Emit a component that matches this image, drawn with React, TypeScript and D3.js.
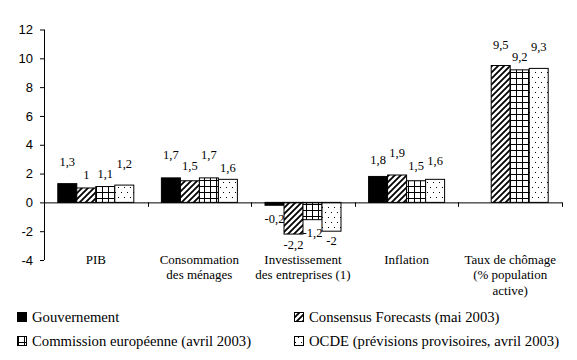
import React, { useEffect, useRef } from "react";
import * as d3 from "d3";

// categories (lines of each axis label)
const categories = ["PIB", "Consommation", "Investissement", "Inflation", "Taux"];
const categoryLines = [
    ["PIB"],
    ["Consommation", "des ménages"],
    ["Investissement", "des entreprises (1)"],
    ["Inflation"],
    ["Taux de chômage", "(% population", "active)"],
];

const seriesNames = [
    "Gouvernement",
    "Consensus Forecasts (mai 2003)",
    "Commission européenne (avril 2003)",
    "OCDE (prévisions provisoires, avril 2003)",
];

// values per series, in category order (null = no bar)
const gouvernement = [1.3, 1.7, -0.2, 1.8, null];
const consensus = [1.0, 1.5, -2.2, 1.9, 9.5];
const commission = [1.1, 1.7, -1.2, 1.5, 9.2];
const ocde = [1.2, 1.6, -2.0, 1.6, 9.3];
const seriesValues = [gouvernement, consensus, commission, ocde];

const yTicks = [-4, -2, 0, 2, 4, 6, 8, 10, 12];

// distance of each value label from the bar end (Excel staggers them)
const labelGap = [
    [22, 23, 13, 17, 0],
    [13, 15, 11, 22, 21],
    [13, 23, 13, 15, 13],
    [21, 12, 9, 19, 22],
];

const fills = ["#000", "url(#hatch)", "url(#grid)", "url(#dots)"];

const fmt = (v: number) => String(v).replace(".", ",");

const App: React.FC = () => {
    const svgRef = useRef<SVGSVGElement>(null);

    useEffect(() => {
        if (!svgRef.current) return;
        const svg = d3.select(svgRef.current);
        svg.selectAll("*").remove();

        const left = 44, right = 562, top = 29.5, bottom = 260;
        const serif = "Liberation Serif, Times New Roman, serif";
        const sans = "Liberation Sans, Arial, sans-serif";

        // patterns
        const defs = svg.append("defs");
        const hatch = defs.append("pattern")
            .attr("id", "hatch")
            .attr("patternUnits", "userSpaceOnUse")
            .attr("width", 6).attr("height", 6);
        hatch.append("rect").attr("width", 6).attr("height", 6).attr("fill", "#fff");
        hatch.append("path")
            .attr("d", "M-1,7 L7,-1 M-4,4 L4,-4 M2,10 L10,2")
            .attr("stroke", "#000")
            .attr("stroke-width", 1.8);

        const grid = defs.append("pattern")
            .attr("id", "grid")
            .attr("patternUnits", "userSpaceOnUse")
            .attr("width", 6).attr("height", 6);
        grid.append("rect").attr("width", 6).attr("height", 6).attr("fill", "#fff");
        grid.append("path")
            .attr("d", "M0.5,0 V6 M0,0.5 H6")
            .attr("stroke", "#000")
            .attr("stroke-width", 1);

        const dots = defs.append("pattern")
            .attr("id", "dots")
            .attr("patternUnits", "userSpaceOnUse")
            .attr("width", 6).attr("height", 10);
        dots.append("rect").attr("width", 6).attr("height", 10).attr("fill", "#fff");
        dots.append("rect").attr("x", 1).attr("y", 2).attr("width", 1).attr("height", 1).attr("fill", "#000");
        dots.append("rect").attr("x", 4).attr("y", 7).attr("width", 1).attr("height", 1).attr("fill", "#000");

        const x0 = d3.scaleBand()
            .domain(categories)
            .range([left, right])
            .padding(0);
        const bw = x0.bandwidth();
        const barW = 19;
        const x1 = d3.scaleBand()
            .domain(seriesNames)
            .range([bw / 2 - 2 * barW, bw / 2 + 2 * barW])
            .padding(0);

        const y = d3.scaleLinear().domain([-4, 12]).range([bottom, top]);

        // y axis
        const yAxis = svg.append("g")
            .attr("transform", `translate(${left},0)`)
            .call(d3.axisLeft(y).tickValues(yTicks).tickSize(4).tickPadding(7).tickFormat(d => String(d)));
        yAxis.select(".domain").attr("stroke", "#000").attr("d", `M0.5,${top}V${bottom}`);
        yAxis.selectAll(".tick line").attr("stroke", "#000");
        yAxis.selectAll(".tick text")
            .style("font-family", sans)
            .style("font-size", "13px")
            .attr("fill", "#000");

        // bars
        seriesValues.forEach((vals, si) => {
            const g = svg.append("g");
            vals.forEach((v, ci) => {
                if (v === null) return;
                const bx = (x0(categories[ci]) || 0) + (x1(seriesNames[si]) || 0);
                const y0 = y(Math.max(0, v));
                const h = Math.abs(y(v) - y(0));
                g.append("rect")
                    .attr("x", bx)
                    .attr("y", y0)
                    .attr("width", barW)
                    .attr("height", h)
                    .attr("fill", fills[si])
                    .attr("stroke", "#000")
                    .attr("stroke-width", 1);

                const ly = v >= 0 ? y(v) - labelGap[si][ci] : y(v) + labelGap[si][ci];
                g.append("text")
                    .attr("x", bx + barW / 2)
                    .attr("y", ly)
                    .attr("dy", "0.35em")
                    .attr("text-anchor", "middle")
                    .style("font-family", serif)
                    .style("font-size", "12.5px")
                    .attr("fill", "#000")
                    .text(fmt(v));
            });
        });

        // x axis at zero
        const xAxis = svg.append("g");
        xAxis.append("line")
            .attr("x1", left).attr("x2", right)
            .attr("y1", y(0) + 0.5).attr("y2", y(0) + 0.5)
            .attr("stroke", "#000");
        categories.forEach(c => {
            const tx = Math.round((x0(c) || 0) + bw) + 0.5;
            xAxis.append("line")
                .attr("x1", tx).attr("x2", tx)
                .attr("y1", y(0)).attr("y2", y(0) + 4.5)
                .attr("stroke", "#000");
        });

        // category labels
        categoryLines.forEach((lines, ci) => {
            const cx = (x0(categories[ci]) || 0) + bw / 2;
            const t = svg.append("text")
                .attr("text-anchor", "middle")
                .style("font-family", serif)
                .style("font-size", "13px")
                .attr("fill", "#000");
            lines.forEach((line, li) => {
                t.append("tspan")
                    .attr("x", cx)
                    .attr("y", 263.5 + li * 15.5)
                    .text(line);
            });
        });

        // legend
        const legendPos = [[17, 317], [294, 317], [17, 341], [294, 341]];
        seriesNames.forEach((name, i) => {
            const [lx, ly] = legendPos[i];
            svg.append("rect")
                .attr("x", lx + 0.5)
                .attr("y", ly - 4.5)
                .attr("width", 9)
                .attr("height", 9)
                .attr("fill", fills[i])
                .attr("stroke", "#000");
            svg.append("text")
                .attr("x", lx + 15)
                .attr("y", ly)
                .attr("dy", "0.35em")
                .style("font-family", serif)
                .style("font-size", "14.7px")
                .attr("fill", "#000")
                .text(name);
        });
    }, []);

    return (
        <div style={{ position: "absolute", left: 0, top: 0, background: "#fff" }}>
            <svg ref={svgRef} width={577} height={360} style={{ display: "block" }}></svg>
        </div>
    );
};

export default App;
